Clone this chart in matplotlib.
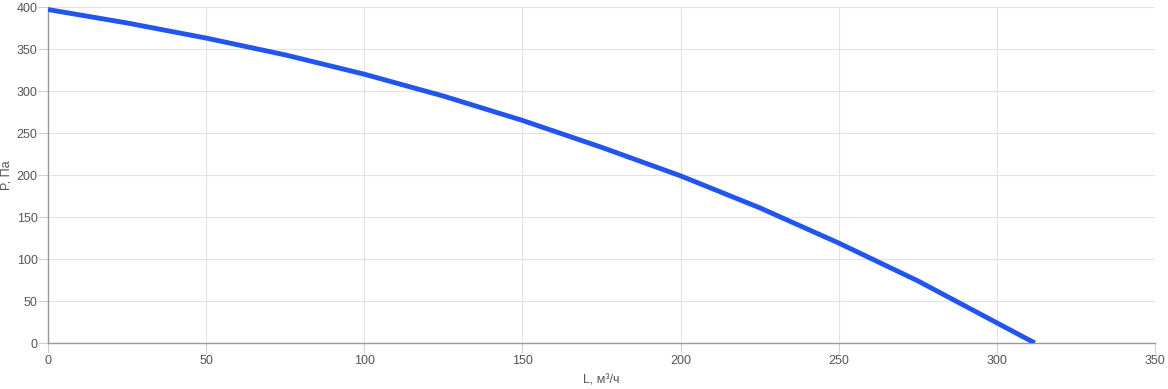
import matplotlib
matplotlib.use('Agg')
import matplotlib.pyplot as plt

# airflow L (m3/h) vs pressure P (Pa)
flow = [0, 25, 50, 75, 100, 125, 150, 175, 200, 225, 250, 275, 300, 312]
pressure = [397, 381, 363, 343, 320, 294, 265, 233, 199, 161, 119, 74, 24, 0]

x_ticks = [0, 50, 100, 150, 200, 250, 300, 350]
y_ticks = [0, 50, 100, 150, 200, 250, 300, 350, 400]

plt.rcParams['font.family'] = ['Liberation Sans', 'DejaVu Sans']

fig = plt.figure(figsize=(11.68, 3.89), dpi=100)
ax = fig.add_axes([48 / 1168, 46 / 389, 1107 / 1168, 336 / 389])

ax.plot(flow, pressure, color='#2255ee', linewidth=3.5, solid_capstyle='butt',
        solid_joinstyle='round', zorder=3)

ax.set_xlim(0, 350)
ax.set_ylim(0, 400)
ax.set_xticks(x_ticks)
ax.set_yticks(y_ticks)
ax.grid(True, color='#e3e3e3', linewidth=0.8)
ax.set_axisbelow(True)

for side in ['top', 'right']:
    ax.spines[side].set_visible(False)
for side in ['left', 'bottom']:
    ax.spines[side].set_color('#999999')
    ax.spines[side].set_linewidth(1)

ax.tick_params(axis='both', colors='#d0d0d0', labelcolor='#555555', labelsize=9, length=7, width=0.8)
ax.tick_params(axis='x', pad=1.5)
ax.tick_params(axis='y', pad=0.5)

ax.set_xlabel('L, м³/ч', fontsize=9, color='#555555', va='center')
ax.set_ylabel('P, Па', fontsize=9, color='#555555', va='center')
ax.xaxis.set_label_coords(0.4995, -0.113)
ax.yaxis.set_label_coords(-0.0379, 0.5)

fig.savefig('out.png', dpi=100)
